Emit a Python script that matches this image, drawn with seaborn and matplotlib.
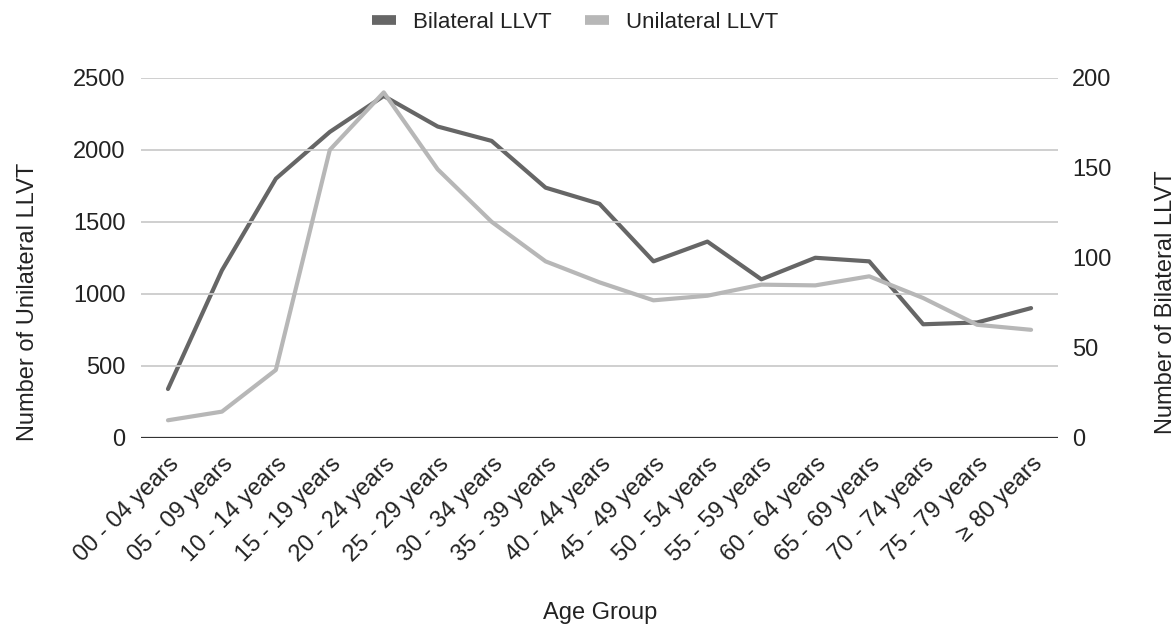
import matplotlib
matplotlib.use("Agg")
import matplotlib.pyplot as plt
import seaborn as sns
import pandas as pd
from matplotlib.lines import Line2D

age_groups = ["00 - 04 years", "05 - 09 years", "10 - 14 years", "15 - 19 years",
              "20 - 24 years", "25 - 29 years", "30 - 34 years", "35 - 39 years",
              "40 - 44 years", "45 - 49 years", "50 - 54 years", "55 - 59 years",
              "60 - 64 years", "65 - 69 years", "70 - 74 years", "75 - 79 years",
              "\u2265 80 years"]
bilateral = [27, 93, 144, 170, 190, 173, 165, 139, 130, 98, 109, 88, 100, 98, 63, 64, 72]
unilateral = [120, 180, 470, 2000, 2400, 1865, 1500, 1225, 1079, 954, 986, 1063, 1058, 1121, 970, 784, 749]

left_ticks = [0, 500, 1000, 1500, 2000, 2500]
right_ticks = [0, 50, 100, 150, 200]

DARK = "#666666"
LIGHT = "#b7b7b7"
TXT = "#222222"
FS = 17
LFS = 16

sns.set_theme(style="white")
plt.rcParams['font.family'] = ['Liberation Sans', 'DejaVu Sans']

df = pd.DataFrame({"Age Group": age_groups, "Bilateral": bilateral, "Unilateral": unilateral})

fig = plt.figure(figsize=(11.76, 6.28), dpi=100)
ax = fig.add_axes([0.1199, 0.3033, 0.7798, 0.5725])
ax2 = ax.twinx()

sns.lineplot(data=df, x="Age Group", y="Unilateral", ax=ax, color=LIGHT, linewidth=3, sort=False)
sns.lineplot(data=df, x="Age Group", y="Bilateral", ax=ax2, color=DARK, linewidth=3, sort=False)

ax.set_zorder(ax2.get_zorder() + 1)
ax.patch.set_visible(False)

ax.set_xlim(-0.5, len(age_groups) - 0.5)
ax.set_ylim(0, 2500)
ax2.set_ylim(0, 200)
ax.set_yticks(left_ticks)
ax2.set_yticks(right_ticks)

ax.yaxis.grid(True, color="#cccccc", linewidth=1.3)
ax.xaxis.grid(False)
ax2.grid(False)

for a in (ax, ax2):
    for s in ["top", "left", "right", "bottom"]:
        a.spines[s].set_visible(False)
ax.axhline(0, color="#333333", linewidth=1.6, zorder=5)

ax.tick_params(axis="y", length=0, pad=11, labelsize=FS, labelcolor=TXT)
ax2.tick_params(axis="y", length=0, pad=10, labelsize=FS, labelcolor=TXT)
ax.tick_params(axis="x", length=0, pad=11, labelsize=FS, labelcolor=TXT)
ax.set_xticks(range(len(age_groups)))
ax.set_xticklabels(age_groups, rotation=45, ha="right", rotation_mode="anchor")

ax.set_xlabel("")
ax.set_ylabel("")
ax2.set_ylabel("")
fig.text(0.510, 0.024, "Age Group", fontsize=FS, color=TXT, ha="center", va="center")
fig.text(0.024, 0.519, "Number of Unilateral LLVT", fontsize=FS, color=TXT,
         ha="center", va="center", rotation=90)
fig.text(0.9915, 0.519, "Number of Bilateral LLVT", fontsize=FS, color=TXT,
         ha="center", va="center", rotation=90)

handles = [Line2D([0], [0], color=DARK, linewidth=7, solid_capstyle="butt"),
           Line2D([0], [0], color=LIGHT, linewidth=7, solid_capstyle="butt")]
fig.legend(handles, ["Bilateral LLVT", "Unilateral LLVT"], loc="center",
           bbox_to_anchor=(0.489, 0.964), ncol=2, frameon=False, fontsize=LFS,
           handlelength=1.1, columnspacing=1.5, handletextpad=0.75, labelcolor=TXT)

fig.savefig("out.png", dpi=100)
